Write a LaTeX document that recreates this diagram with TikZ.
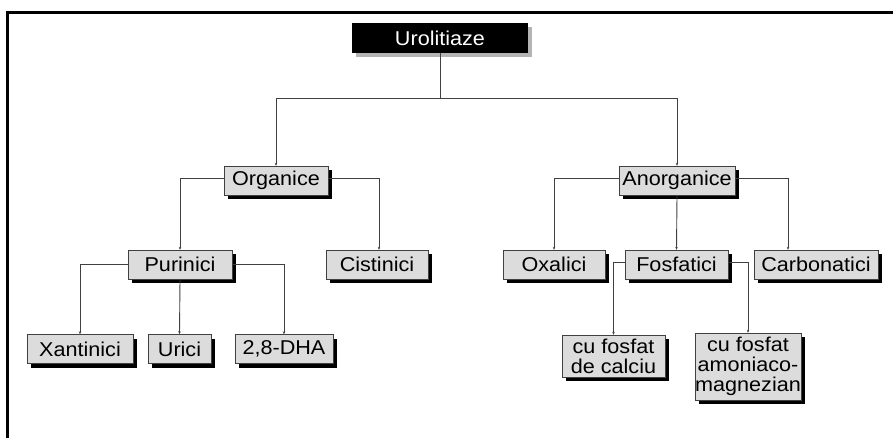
\documentclass[tikz,border=0pt]{standalone}
\usepackage{fontspec}
\setmainfont{Liberation Sans}[FakeStretch=1.08]
\usepackage{xcolor}
\usepackage{tikz}
\usetikzlibrary{arrows.meta,shadows}
\definecolor{uroBox}{HTML}{DCDCDC}
\definecolor{uroLine}{HTML}{404040}
\definecolor{uroShade}{HTML}{B4B4B4}

\begin{document}
\begin{tikzpicture}[
    x=1pt, y=-1pt,
    >={Stealth[length=3pt,width=2.5pt]},
    cat/.style={draw=uroLine, fill=uroBox, minimum width=#1,
                minimum height=29pt, inner sep=0pt, font=\fontsize{20}{21}\selectfont,
                drop shadow={shadow xshift=4pt, shadow yshift=-4pt,
                             fill=black, opacity=1}},
    root/.style={fill=black, text=white, minimum width=176pt,
                 minimum height=30pt, inner sep=0pt, font=\fontsize{20}{21}\selectfont,
                 drop shadow={shadow xshift=4pt, shadow yshift=-4pt,
                              fill=uroShade, opacity=1}},
    link/.style={draw=uroLine, line width=0.9pt},
  ]
  \useasboundingbox (0,0) rectangle (893,438);

  % --- frame ---
  \draw[line width=3pt, line cap=rect] (7,438) -- (7,13) -- (893,13);

  % --- root ---
  \node[root] (uro) at (440,38) {Urolitiaze};

  % --- first level ---
  \node[cat=104pt] (org)   at (276,180.5) {Organice};
  \node[cat=116pt] (anorg) at (677,180.5) {Anorganice};

  % --- second level ---
  \node[cat=104pt] (pur)   at (180,264.5) {Purinici};
  \node[cat=102pt] (cist)  at (377,264.5) {Cistinici};
  \node[cat=102pt] (oxal)  at (554,264.5) {Oxalici};
  \node[cat=103pt] (fosf)  at (676.5,264.5) {Fosfatici};
  \node[cat=124pt] (carb)  at (816,264.5) {Carbonatici};

  % --- third level ---
  \node[cat=106pt] (xant)  at (80,349) {Xantinici};
  \node[cat=63pt]  (uric)  at (179.5,349) {Urici};
  \node[cat=98pt]  (dha)   at (284,349) {2,8-DHA};
  \node[cat=103pt, minimum height=42pt, align=center,
        font=\fontsize{20}{20}\selectfont] (calc) at (613.5,356)
    {cu fosfat\\de calciu};
  \node[cat=102pt, minimum height=67pt, align=center,
        font=\fontsize{20}{20}\selectfont] (amon) at (748,366.5)
    {cu fosfat\\amoniaco-\\magnezian};

  % --- connectors ---
  \draw[link] (uro.south) -- (440,98) coordinate (split);
  \draw[link, ->] (split) -| (org.north);
  \draw[link, ->] (split) -| (anorg.north);

  \draw[link, ->] ([yshift=2pt]org.west) -| (pur.north);
  \draw[link, ->] ([yshift=2pt]org.east) -| ([xshift=2pt]cist.north);

  \draw[link, ->] (pur.west) -| (xant.north);
  \draw[link, ->] (pur.south) -- (uric.north);
  \draw[link, ->] (pur.east) -| (dha.north);

  \draw[link, ->] ([yshift=2pt]anorg.west) -| (oxal.north);
  \draw[link, ->] (anorg.south) -- (fosf.north);
  \draw[link, ->] ([yshift=2pt]anorg.east) -| ([xshift=-28pt]carb.north);

  \draw[link, ->] ([yshift=2pt]fosf.west) -| (calc.north);
  \draw[link, ->] ([yshift=2pt]fosf.east) -| (amon.north);

\end{tikzpicture}
\end{document}
